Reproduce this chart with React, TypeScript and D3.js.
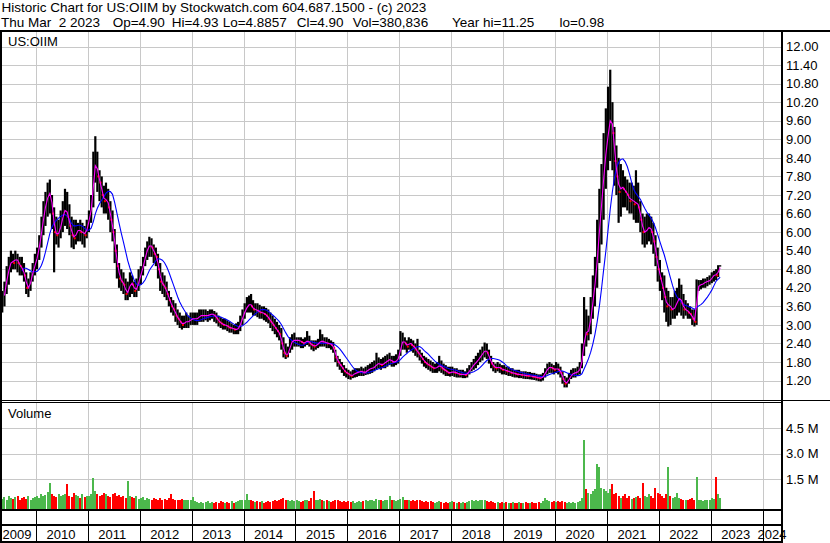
import * as d3 from 'd3';

const title = 'Historic Chart for US:OIIM by Stockwatch.com 604.687.1500 - (c) 2023';
const quoteParts = ['Thu Mar\u00A0\u00A02 2023', 'Op=4.90', 'Hi=4.93', 'Lo=4.8857', 'Cl=4.90', 'Vol=380,836', 'Year hi=11.25', 'lo=0.98'];
const symbol = 'US:OIIM';

// half-month bars, the first one starting 1 May 2009
const high = [
  4.1,4.4,4.9,5.2,5.4,5.3,5.4,5.3,5.2,5.2,5.0,4.7,4.5,4.7,5.0,5.3, // 2009
  5.5,5.9,6.5,7.0,7.3,7.6,7.7,7.2,6.8,6.5,6.4,6.7,7.0,7.4,7.3,6.9,6.5,6.4,6.4,6.3,6.4,6.3,6.2,6.4, // 2010
  6.7,7.2,8.6,9.1,8.6,8.0,7.8,7.5,7.6,7.4,7.0,6.7,6.1,5.6,5.0,4.8,4.7,4.5,4.4,4.7,4.6,4.4,4.5,4.8, // 2011
  4.9,5.2,5.5,5.7,5.85,5.8,5.6,5.5,5.3,5.0,4.7,4.6,4.4,4.1,3.9,3.8,3.7,3.5,3.4,3.3,3.3,3.4,3.3,3.4, // 2012
  3.4,3.4,3.4,3.5,3.5,3.5,3.5,3.45,3.5,3.5,3.45,3.4,3.3,3.25,3.2,3.2,3.15,3.1,3.05,3.0,3.05,3.1,3.3,3.5, // 2013
  3.7,3.9,3.95,4.0,3.8,3.7,3.7,3.65,3.6,3.6,3.55,3.5,3.4,3.3,3.2,3.1,3.0,2.9,2.6,2.4,2.3,2.6,2.7,2.75, // 2014
  2.6,2.6,2.6,2.55,2.6,2.8,2.65,2.5,2.5,2.5,2.55,2.85,2.7,2.6,2.6,2.55,2.5,2.45,2.2,2.0,1.9,1.8,1.7,1.6, // 2015
  1.55,1.5,1.55,1.6,1.6,1.6,1.65,1.6,1.65,1.7,1.75,1.8,1.85,2.1,1.95,1.9,1.95,2.0,2.05,2.1,2.0,2.0,2.05,2.2, // 2016
  2.8,2.75,2.6,2.5,2.6,2.55,2.5,2.4,2.55,2.2,2.1,2.0,1.95,1.9,1.85,1.8,1.75,1.8,2.0,1.85,1.75,1.7,1.65,1.65, // 2017
  1.65,1.6,1.6,1.55,1.55,1.55,1.5,1.6,1.7,1.8,1.9,2.0,2.1,2.2,2.3,2.43,2.4,2.2,2.0,1.8,1.75,1.8,1.75,1.7, // 2018
  1.7,1.65,1.65,1.6,1.6,1.55,1.55,1.55,1.5,1.5,1.5,1.48,1.48,1.45,1.45,1.42,1.4,1.4,1.45,1.6,1.75,1.8,1.75,1.7, // 2019
  1.8,1.75,1.65,1.5,1.35,1.3,1.45,1.55,1.6,1.6,1.65,1.8,2.4,3.9,3.5,3.3,3.9,4.6,5.2,6.4,7.4,8.2,9.2,10.0, // 2020
  10.7,11.25,10.2,9.4,8.8,8.4,8.2,8.0,7.8,7.7,7.6,7.6,7.5,8.0,7.6,7.0,6.6,6.5,6.6,6.6,6.5,6.3,5.9,5.5, // 2021
  5.1,4.7,4.6,4.2,4.1,3.9,3.9,4.1,4.2,4.5,4.3,4.0,3.8,3.7,3.6,3.5,3.5,4.47,4.45,4.45,4.5,4.5,4.55,4.6, // 2022
  4.7,4.75,4.8,4.93,4.93 // 2023
];

const low = [
  3.4,3.6,4.0,4.3,4.7,4.8,4.8,4.7,4.6,4.6,4.4,4.0,3.9,4.1,4.4,4.6,
  4.8,5.1,5.5,5.9,6.2,6.5,6.6,6.1,4.7,5.6,5.5,5.8,6.0,6.2,6.1,5.9,5.5,5.45,5.6,5.7,5.7,5.6,5.5,5.8,
  6.0,6.3,6.8,7.6,7.3,7.0,6.8,6.6,6.6,6.4,6.0,5.7,5.0,4.5,4.2,4.1,4.0,3.8,3.8,3.9,4.0,3.9,3.9,4.1,
  4.3,4.6,4.9,5.1,5.2,5.2,5.0,4.9,4.5,4.1,4.0,3.9,3.8,3.6,3.4,3.3,3.1,3.0,2.9,2.85,2.9,2.9,2.9,3.0,
  3.0,3.0,3.0,3.1,3.1,3.1,3.15,3.1,3.15,3.2,3.1,3.05,2.95,2.9,2.85,2.85,2.8,2.75,2.75,2.7,2.7,2.7,2.8,3.0,
  3.2,3.4,3.4,3.4,3.3,3.3,3.25,3.2,3.2,3.15,3.1,3.05,2.9,2.8,2.7,2.6,2.5,2.2,1.95,1.9,1.95,2.1,2.2,2.3,
  2.3,2.3,2.25,2.25,2.3,2.35,2.3,2.2,2.15,2.2,2.25,2.3,2.3,2.3,2.25,2.25,2.2,2.1,1.8,1.65,1.55,1.45,1.35,1.3,
  1.25,1.23,1.28,1.3,1.32,1.35,1.35,1.35,1.38,1.4,1.42,1.45,1.5,1.55,1.6,1.55,1.6,1.6,1.65,1.7,1.65,1.65,1.7,1.75,
  2.0,2.2,2.2,2.1,2.2,2.15,2.1,2.0,1.95,1.85,1.75,1.65,1.6,1.55,1.5,1.45,1.45,1.45,1.5,1.45,1.4,1.35,1.35,1.33,
  1.35,1.32,1.3,1.3,1.3,1.28,1.28,1.3,1.4,1.5,1.55,1.6,1.7,1.8,1.85,1.95,1.9,1.75,1.6,1.5,1.45,1.5,1.45,1.4,
  1.4,1.38,1.35,1.35,1.32,1.3,1.3,1.28,1.28,1.26,1.25,1.25,1.24,1.23,1.22,1.2,1.18,1.17,1.2,1.3,1.4,1.45,1.45,1.4,
  1.45,1.4,1.3,1.1,0.98,0.98,1.1,1.25,1.3,1.3,1.35,1.4,1.6,2.0,2.3,2.5,2.7,3.2,3.6,4.2,5.0,5.6,6.4,7.4,
  8.0,8.3,8.0,7.5,7.2,6.3,6.5,6.8,6.8,6.7,6.6,6.6,6.4,6.3,6.3,6.0,5.6,5.5,5.6,5.7,5.6,5.3,4.9,4.4,
  4.1,3.8,3.4,3.1,2.95,3.0,3.2,3.2,3.3,3.4,3.3,3.2,3.3,3.2,3.2,3.0,2.95,3.0,4.1,4.15,4.2,4.2,4.25,4.3,
  4.35,4.4,4.45,4.55,4.8857
];

const close = [
  3.7,4.2,4.6,4.9,5.1,5.0,5.2,5.0,4.9,4.8,4.6,4.2,4.2,4.5,4.8,5.0,
  5.3,5.7,6.2,6.6,7.0,7.2,7.3,6.6,6.0,5.9,6.0,6.3,6.6,6.8,6.5,6.2,5.9,5.8,6.0,6.1,6.0,6.0,5.9,6.2,
  6.5,6.9,8.0,8.3,7.8,7.6,7.2,7.0,7.1,6.8,6.4,6.0,5.4,4.9,4.5,4.4,4.3,4.0,4.1,4.4,4.3,4.1,4.2,4.5,
  4.7,5.0,5.3,5.5,5.6,5.5,5.3,5.2,4.8,4.4,4.3,4.2,4.0,3.8,3.6,3.5,3.3,3.2,3.1,3.0,3.1,3.1,3.1,3.2,
  3.2,3.2,3.2,3.3,3.3,3.3,3.3,3.3,3.35,3.35,3.3,3.2,3.1,3.05,3.0,3.0,2.95,2.9,2.9,2.85,2.85,2.9,3.1,3.3,
  3.5,3.6,3.7,3.6,3.5,3.5,3.45,3.4,3.4,3.35,3.3,3.2,3.1,3.0,2.9,2.8,2.7,2.4,2.1,2.0,2.1,2.4,2.5,2.5,
  2.5,2.5,2.45,2.4,2.45,2.5,2.4,2.35,2.3,2.35,2.4,2.5,2.45,2.45,2.4,2.4,2.35,2.25,1.95,1.8,1.7,1.6,1.5,1.45,
  1.4,1.35,1.4,1.45,1.45,1.5,1.5,1.45,1.5,1.55,1.6,1.6,1.65,1.75,1.75,1.7,1.75,1.8,1.85,1.9,1.8,1.8,1.85,1.95,
  2.4,2.5,2.4,2.3,2.45,2.35,2.3,2.2,2.1,2.0,1.9,1.8,1.75,1.7,1.65,1.6,1.6,1.65,1.7,1.6,1.55,1.5,1.45,1.45,
  1.5,1.45,1.45,1.4,1.4,1.4,1.38,1.45,1.55,1.65,1.75,1.8,1.9,2.0,2.1,2.2,2.1,1.9,1.75,1.65,1.6,1.65,1.6,1.55,
  1.55,1.5,1.5,1.45,1.45,1.42,1.4,1.4,1.38,1.38,1.36,1.35,1.35,1.33,1.32,1.3,1.28,1.28,1.35,1.5,1.6,1.65,1.6,1.55,
  1.6,1.55,1.45,1.25,1.1,1.15,1.3,1.4,1.45,1.45,1.5,1.6,2.0,2.8,2.7,2.9,3.4,4.0,4.6,5.5,6.5,7.2,8.2,8.8,
  9.4,9.8,9.2,8.3,7.8,7.3,7.5,7.4,7.3,7.2,7.0,7.1,6.9,7.0,6.8,6.4,6.0,6.0,6.1,6.2,6.0,5.7,5.2,4.8,
  4.5,4.2,3.9,3.6,3.7,3.5,3.5,3.6,3.8,3.9,3.7,3.5,3.5,3.4,3.35,3.2,3.1,4.2,4.3,4.3,4.35,4.4,4.4,4.45,
  4.55,4.65,4.6,4.8,4.9
];

// millions of shares, tallest day in each half month
const volume = [
  0.35,0.45,0.3,0.5,0.4,0.35,0.45,0.5,0.3,0.4,0.45,0.35,0.5,0.3,0.4,0.45,
  0.5,0.4,0.6,0.5,0.55,0.75,1.3,0.6,0.5,0.45,0.6,0.5,0.55,0.6,1.2,0.5,0.45,0.7,0.55,0.5,0.4,0.6,0.45,0.5,
  0.5,0.6,1.55,0.8,0.6,0.5,0.55,0.7,0.6,0.5,0.45,0.6,0.7,0.5,0.55,0.45,0.5,0.4,1.4,0.5,0.45,0.4,0.5,0.35,
  0.4,0.45,0.3,0.4,0.35,0.3,0.4,0.35,0.3,0.4,0.3,0.35,0.3,0.4,0.6,0.35,0.3,0.25,0.3,0.35,0.25,0.3,0.25,0.3,
  0.45,0.2,0.15,0.1,0.15,0.1,0.15,0.2,0.1,0.15,0.1,0.15,0.1,0.2,0.15,0.1,0.15,0.1,0.2,0.1,0.15,0.2,0.3,0.25,
  0.3,0.6,0.25,0.3,0.2,0.15,0.2,0.15,0.2,0.1,0.15,0.2,0.15,0.2,0.25,0.2,0.3,0.35,0.4,0.3,0.25,0.2,0.3,0.2,
  0.25,0.2,0.15,0.2,0.25,0.3,0.2,0.4,0.8,0.3,0.25,0.35,0.3,0.2,0.25,0.2,0.15,0.2,0.3,0.25,0.2,0.15,0.2,0.15,
  0.2,0.15,0.2,0.1,0.15,0.2,0.15,0.2,0.25,0.2,0.3,0.25,0.2,0.35,0.3,0.25,0.2,0.3,0.25,0.5,0.3,0.25,0.2,0.3,
  0.35,0.45,0.3,0.25,0.3,0.2,0.25,0.2,0.3,0.25,0.2,0.15,0.2,0.15,0.2,0.15,0.1,0.15,0.2,0.15,0.1,0.15,0.1,0.15,
  0.2,0.15,0.1,0.15,0.1,0.15,0.1,0.15,0.2,0.25,0.2,0.25,0.2,0.3,0.25,0.3,0.2,0.15,0.2,0.15,0.1,0.15,0.1,0.15,
  0.1,0.15,0.1,0.1,0.15,0.1,0.1,0.15,0.1,0.1,0.15,0.1,0.1,0.15,0.1,0.1,0.15,0.1,0.2,0.4,0.3,0.2,0.15,0.2,
  0.15,0.2,0.15,0.2,0.15,0.1,0.15,0.1,0.15,0.1,0.15,0.2,0.4,3.8,0.9,0.7,0.6,0.8,0.9,2.4,2.2,1.0,0.9,0.8,
  0.7,0.9,1.2,0.6,0.7,0.5,0.4,0.5,0.6,0.4,0.5,0.35,0.4,0.45,0.5,0.4,1.3,0.5,0.45,0.6,0.5,0.4,1.0,0.7,
  0.6,0.5,0.4,0.6,2.2,0.5,0.4,0.45,0.7,0.4,0.35,0.3,0.25,0.3,0.35,0.4,0.3,1.6,0.3,0.25,0.2,0.3,0.25,0.3,
  0.4,0.35,1.6,0.6,0.38
];

const priceTicks = ['12.00','11.40','10.80','10.20','9.60','9.00','8.40','7.80','7.20','6.60','6.00','5.40','4.80','4.20','3.60','3.00','2.40','1.80','1.20'];
const volumeTicks = ['1.5 M','3.0 M','4.5 M'];
const years = [2009,2010,2011,2012,2013,2014,2015,2016,2017,2018,2019,2020,2021,2022,2023,2024];

const width = 830;
const height = 543;
const font = "'Liberation Sans', Arial, sans-serif";

// where each group of the quote line starts (the source pads them with spaces)
const quoteX = [1, 112.7, 171.7, 222.7, 296.7, 352.7, 452, 559.5];

// frame
const plotLeft = 2;
const plotRight = 781;
const priceTop = 32;
const priceBottom = 400;
const volTop = 403;
const volBottom = 509;

const periodDate = (i: number) => new Date(2009, 4 + Math.floor(i / 2), i % 2 === 0 ? 1 : 16);

function sma(values: number[], n: number) {
  const out: [number, number][] = [];
  for (let i = n - 1; i < values.length; i++) {
    out.push([i, d3.mean(values.slice(i - n + 1, i + 1)) as number]);
  }
  return out;
}

export default function App() {
  const x = d3.scaleTime()
    .domain([new Date(2010, 0, 1), new Date(2023, 0, 1)])
    .range([36, 710.7]);
  const y = d3.scaleLinear().domain([1.2, 12]).range([380.6, 46.5]);
  const yv = d3.scaleLinear().domain([0, 4.5]).range([504.6, 428.3]);

  const cx = (i: number) => (x(periodDate(i)) + x(periodDate(i + 1))) / 2;

  const fast = sma(close, 2);
  const slow = sma(close, 10);
  const line = d3.line<[number, number]>().x(d => cx(d[0])).y(d => y(d[1]));

  const yearX = years.slice(1).map(yr => x(new Date(yr, 0, 1)));
  const crisp = (v: number) => Math.round(v) + 0.5;

  const labelX = (yr: number) => {
    const s = x(new Date(yr, 0, 1)) + 10.5;
    return Math.min(Math.max(s, 2.6), 757.5);
  };

  return (
    <div style={{ position: 'fixed', left: 0, top: 0 }}>
      <svg width={width} height={height} style={{ display: 'block', background: '#fff' }} fontFamily={font} fontSize={13}>
        <defs>
          <clipPath id="priceClip">
            <rect x={plotLeft} y={priceTop} width={plotRight - plotLeft} height={priceBottom - priceTop} />
          </clipPath>
        </defs>

        <text x={1.5} y={12} fill="#000" fontSize={13.5}>{title}</text>
        {quoteParts.map((s, k) => (
          <text key={s} x={quoteX[k]} y={26.5} fill="#000" fontSize={13.5}>{s}</text>
        ))}

        {/* grid */}
        <g stroke="#c8c8c8" strokeWidth={1}>
          {priceTicks.map(t => (
            <line key={'p' + t} x1={plotLeft} x2={plotRight} y1={crisp(y(+t))} y2={crisp(y(+t))} />
          ))}
          {volumeTicks.map(t => (
            <line key={'v' + t} x1={plotLeft} x2={plotRight} y1={crisp(yv(parseFloat(t)))} y2={crisp(yv(parseFloat(t)))} />
          ))}
          {yearX.map((v, k) => (
            <g key={'g' + k}>
              <line x1={crisp(v)} x2={crisp(v)} y1={priceTop} y2={priceBottom} />
              <line x1={crisp(v)} x2={crisp(v)} y1={volTop} y2={volBottom} />
            </g>
          ))}
        </g>

        <text x={8} y={46} fill="#000">{symbol}</text>
        <text x={8} y={418} fill="#000">Volume</text>

        {/* price bars */}
        <g clipPath="url(#priceClip)">
          {high.map((h, i) => (
            <rect key={i} x={cx(i) - 1.1} width={2.2} y={y(h)} height={Math.max(1, y(low[i]) - y(h))} fill="#000" />
          ))}
          {close.map((c, i) => (i > 0 && c < close[i - 1] ?
            <rect key={'c' + i} x={cx(i)} width={2} y={y(c) - 1} height={2} fill="#ff0000" /> : null
          ))}
          <path d={line(slow) as string} fill="none" stroke="#0000ff" strokeWidth={1.1} />
          <path d={line(fast) as string} fill="none" stroke="#ff00ff" strokeWidth={1.1} />
        </g>

        {/* volume bars */}
        <g shapeRendering="crispEdges">
          {volume.map((v, i) => (
            <rect key={i} x={cx(i) - 1} width={2} y={yv(v)} height={volBottom - yv(v)}
              fill={i > 0 && close[i] < close[i - 1] ? '#ff0000' : '#4cb84c'} />
          ))}
        </g>

        {/* frame */}
        <g fill="#000" shapeRendering="crispEdges">
          <rect x={0} y={30} width={width} height={2} />
          <rect x={0} y={30} width={2} height={height - 30} />
          <rect x={0} y={400} width={width} height={1} />
          <rect x={0} y={402} width={plotRight + 1} height={1} />
          <rect x={0} y={509} width={plotRight + 1} height={2} />
          <rect x={0} y={524} width={plotRight + 1} height={2} />
          <rect x={0} y={541} width={plotRight + 1} height={2} />
          {yearX.map((v, k) => (
            <rect key={'d' + k} x={Math.round(v)} y={511} width={1} height={30} />
          ))}
        </g>

        {years.map(yr => (
          <text key={yr} x={labelX(yr)} y={539} fill="#000">{yr}</text>
        ))}

        <rect x={781} y={30} width={2} height={height - 30} fill="#000" shapeRendering="crispEdges" />

        {priceTicks.map(t => (
          <text key={'l' + t} x={786} y={y(+t) + 4.7} fill="#000">{t}</text>
        ))}
        {volumeTicks.map(t => (
          <text key={'m' + t} x={786} y={yv(parseFloat(t)) + 4.7} fill="#000">{t}</text>
        ))}
      </svg>
    </div>
  );
}
